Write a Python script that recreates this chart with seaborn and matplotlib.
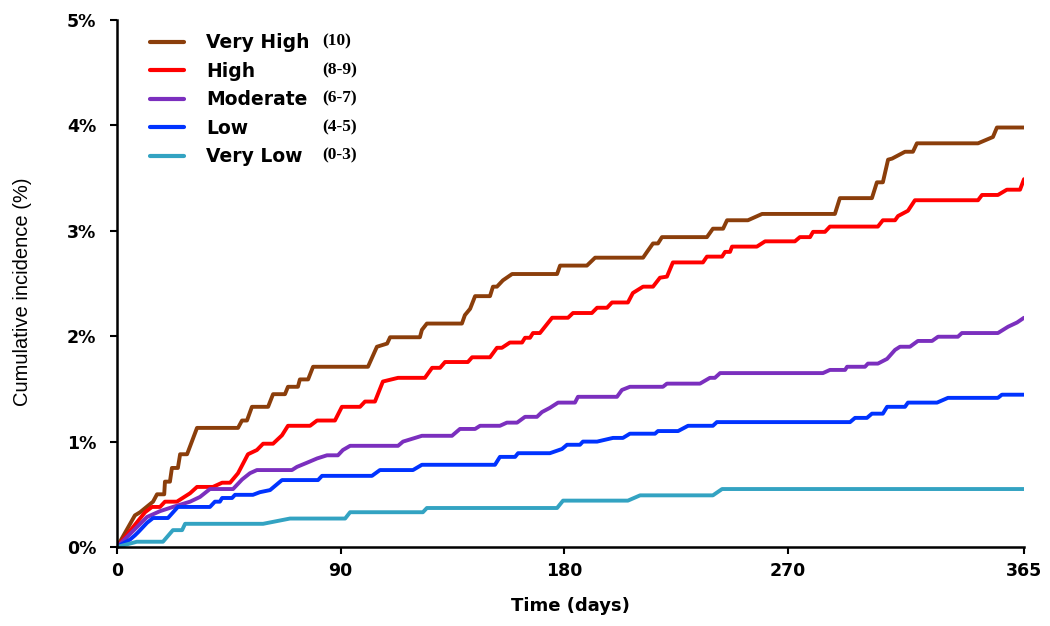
import pandas as pd
import matplotlib.pyplot as plt
import seaborn as sns

# cumulative incidence curves, (day, percent)
very_high = [
    (0, 0), (7.2, 0.30), (9.3, 0.33), (14.5, 0.43), (16.1, 0.50), (19.0, 0.50),
    (19.3, 0.62), (21.3, 0.62), (22.1, 0.75), (24.5, 0.75), (25.4, 0.88),
    (28.2, 0.88), (32.2, 1.13), (48.7, 1.13), (50.3, 1.20), (52.3, 1.20),
    (54.3, 1.33), (60.8, 1.33), (62.8, 1.45), (67.6, 1.45), (68.8, 1.52),
    (72.8, 1.52), (73.6, 1.59), (76.9, 1.59), (78.9, 1.71), (101.0, 1.71),
    (104.6, 1.90), (108.7, 1.93), (109.9, 1.99), (121.9, 1.99), (122.7, 2.06),
    (124.7, 2.12), (138.8, 2.12), (140.0, 2.20), (142.1, 2.26), (144.1, 2.38),
    (150.1, 2.38), (151.3, 2.47), (152.9, 2.47), (155.3, 2.53), (159.0, 2.59),
    (177.1, 2.59), (178.3, 2.67), (189.1, 2.67), (192.4, 2.745), (211.7, 2.745),
    (213.3, 2.80), (215.7, 2.88), (217.7, 2.88), (219.3, 2.94), (237.4, 2.94),
    (239.8, 3.02), (243.9, 3.02), (245.5, 3.10), (253.9, 3.10), (259.6, 3.16),
    (288.9, 3.16), (290.9, 3.31), (303.8, 3.31), (305.8, 3.46), (308.2, 3.46),
    (310.3, 3.675), (311.9, 3.685), (317.1, 3.75), (320.3, 3.75), (321.9, 3.83),
    (346.5, 3.83), (352.5, 3.89), (354.1, 3.98), (365, 3.98),
]
high = [
    (0, 0), (11.3, 0.33), (14.1, 0.38), (17.3, 0.38), (19.3, 0.43), (24.1, 0.43),
    (29.4, 0.51), (32.2, 0.57), (38.6, 0.57), (42.3, 0.61), (45.5, 0.61),
    (48.7, 0.70), (52.7, 0.88), (56.3, 0.92), (58.8, 0.98), (62.8, 0.98),
    (66.4, 1.06), (68.8, 1.15), (77.7, 1.15), (80.5, 1.20), (87.7, 1.20),
    (90.5, 1.33), (97.8, 1.33), (99.8, 1.38), (103.8, 1.38), (107.0, 1.57),
    (113.1, 1.605), (123.9, 1.605), (126.8, 1.70), (130.0, 1.70), (132.0, 1.755),
    (141.2, 1.755), (142.9, 1.80), (150.1, 1.80), (152.9, 1.89), (154.9, 1.89),
    (158.1, 1.94), (163.0, 1.94), (164.2, 1.985), (166.2, 1.985), (167.4, 2.03),
    (170.2, 2.03), (175.1, 2.175), (181.5, 2.175), (183.5, 2.22), (191.1, 2.22),
    (193.2, 2.27), (197.2, 2.27), (199.2, 2.32), (205.6, 2.32), (207.6, 2.41),
    (211.7, 2.47), (215.7, 2.47), (218.5, 2.555), (221.3, 2.565), (223.7, 2.70),
    (235.8, 2.70), (237.4, 2.755), (243.5, 2.755), (244.7, 2.80), (246.7, 2.80),
    (247.5, 2.85), (257.5, 2.85), (260.8, 2.90), (272.8, 2.90), (274.8, 2.94),
    (278.9, 2.94), (280.1, 2.99), (284.9, 2.99), (286.9, 3.04), (306.2, 3.04),
    (308.2, 3.10), (313.1, 3.10), (314.3, 3.14), (318.3, 3.19), (321.1, 3.29),
    (346.5, 3.29), (348.1, 3.34), (354.5, 3.34), (358.1, 3.39), (363.4, 3.39),
    (365, 3.49),
]
moderate = [
    (0, 0), (12.1, 0.285), (17.3, 0.34), (22.5, 0.38), (29.4, 0.43), (33.4, 0.475),
    (37.4, 0.55), (46.7, 0.55), (50.3, 0.64), (53.5, 0.70), (56.3, 0.73),
    (70.4, 0.73), (72.4, 0.76), (76.5, 0.80), (80.5, 0.84), (84.5, 0.87),
    (88.9, 0.87), (90.9, 0.92), (93.8, 0.96), (113.1, 0.96), (115.1, 1.00),
    (122.7, 1.055), (134.8, 1.055), (138.0, 1.12), (144.1, 1.12), (146.1, 1.15),
    (154.1, 1.15), (156.9, 1.18), (161.0, 1.18), (164.2, 1.235), (169.0, 1.235),
    (171.0, 1.28), (174.2, 1.32), (177.5, 1.37), (184.3, 1.37), (185.5, 1.425),
    (201.2, 1.425), (203.2, 1.49), (206.4, 1.52), (219.7, 1.52), (221.3, 1.55),
    (234.6, 1.55), (238.6, 1.605), (240.6, 1.605), (242.7, 1.65), (284.1, 1.65),
    (286.9, 1.68), (293.0, 1.68), (293.8, 1.71), (301.0, 1.71), (302.2, 1.74),
    (306.2, 1.74), (309.9, 1.785), (313.1, 1.87), (315.1, 1.90), (319.1, 1.90),
    (322.3, 1.955), (328.0, 1.955), (330.4, 1.995), (338.4, 1.995), (340.0, 2.03),
    (354.5, 2.03), (358.6, 2.09), (362.2, 2.13), (365, 2.175),
]
low = [
    (0, 0), (5.2, 0.07), (7.2, 0.11), (8.5, 0.14), (12.1, 0.23), (14.5, 0.275),
    (20.5, 0.275), (24.5, 0.38), (37.4, 0.38), (39.4, 0.43), (41.4, 0.43),
    (42.3, 0.465), (46.3, 0.465), (47.5, 0.495), (54.7, 0.495), (57.5, 0.52),
    (61.6, 0.54), (66.4, 0.635), (80.9, 0.635), (82.5, 0.675), (102.6, 0.675),
    (105.8, 0.73), (119.1, 0.73), (122.7, 0.78), (152.1, 0.78), (154.1, 0.855),
    (160.2, 0.855), (161.4, 0.89), (174.2, 0.89), (179.1, 0.93), (181.1, 0.97),
    (186.3, 0.97), (187.5, 1.00), (193.2, 1.00), (199.6, 1.035), (203.6, 1.035),
    (206.4, 1.075), (216.5, 1.075), (217.7, 1.10), (225.8, 1.10), (229.8, 1.15),
    (239.8, 1.15), (241.4, 1.185), (295.0, 1.185), (297.0, 1.225), (301.8, 1.225),
    (303.8, 1.265), (308.2, 1.265), (309.9, 1.33), (317.1, 1.33), (318.3, 1.37),
    (330.0, 1.37), (334.4, 1.415), (354.5, 1.415), (356.1, 1.445), (365, 1.445),
]
very_low = [
    (0, 0), (8.0, 0.05), (18.5, 0.05), (22.5, 0.16), (26.2, 0.16), (27.4, 0.22),
    (58.8, 0.22), (69.6, 0.27), (91.8, 0.27), (93.8, 0.33), (123.1, 0.33),
    (124.7, 0.37), (177.1, 0.37), (179.5, 0.44), (205.6, 0.44), (210.5, 0.49),
    (239.8, 0.49), (243.5, 0.55), (365, 0.55),
]

groups = ["Very High", "High", "Moderate", "Low", "Very Low"]
score_ranges = ["(10)", "(8-9)", "(6-7)", "(4-5)", "(0-3)"]
colors = ["#8B3E0B", "#FF0000", "#7B2FBE", "#0033FF", "#33A3C2"]
curves = [very_high, high, moderate, low, very_low]
x_ticks = [0, 90, 180, 270, 365]
y_ticks = [0, 1, 2, 3, 4, 5]

rows = []
for name, pts in zip(groups, curves):
    for d, p in pts:
        rows.append({"group": name, "day": d, "pct": p})
df = pd.DataFrame(rows)

sns.set_style("white")
plt.rcParams["font.family"] = ["DejaVu Sans"]
plt.rcParams["text.color"] = "black"
plt.rcParams["axes.labelcolor"] = "black"
plt.rcParams["xtick.color"] = "black"
plt.rcParams["ytick.color"] = "black"

fig = plt.figure(figsize=(10.5, 6.26), dpi=100)
ax = fig.add_axes([117 / 1050, 79 / 626, 907 / 1050, 527 / 626])

sns.lineplot(
    data=df, x="day", y="pct", hue="group", hue_order=groups,
    palette=dict(zip(groups, colors)), estimator=None, linewidth=2.8, ax=ax,
)

ax.set_xlim(0, 365)
ax.set_ylim(0, 5)
ax.set_xticks(x_ticks)
ax.set_yticks(y_ticks)
ax.set_yticklabels([f"{i}%" for i in y_ticks])
for lab in ax.get_xticklabels() + ax.get_yticklabels():
    lab.set_fontweight("bold")
    lab.set_fontsize(12.5)
ax.tick_params(axis="both", bottom=True, left=True, direction="out",
               length=5, width=1.5, color="black", labelcolor="black")
ax.tick_params(axis="y", pad=10)
ax.tick_params(axis="x", pad=6)
for side in ["top", "right"]:
    ax.spines[side].set_visible(False)
for side in ["left", "bottom"]:
    ax.spines[side].set_color("black")
    ax.spines[side].set_linewidth(1.8)

ax.set_xlabel("Time (days)", fontsize=13, fontweight="bold", labelpad=12,
              color="black")
ax.set_ylabel("Cumulative incidence (%)", family="Liberation Sans",
              fontsize=14.5, color="black")
ax.yaxis.set_label_coords(-0.094, 0.484)

leg = ax.legend(
    loc="upper left", bbox_to_anchor=(0.0364, 0.975), frameon=False,
    borderpad=0, borderaxespad=0, handlelength=1.8, handletextpad=1.2,
    labelspacing=0.51, prop={"weight": "bold", "size": 13.5},
)
for line in leg.get_lines():
    line.set_linewidth(3)
for txt in leg.get_texts():
    txt.set_color("black")

fig.canvas.draw()
renderer = fig.canvas.get_renderer()
inv = fig.transFigure.inverted()
for txt, rng in zip(leg.get_texts(), score_ranges):
    bb = txt.get_window_extent(renderer)
    y = inv.transform((0, (bb.y0 + bb.y1) / 2))[1]
    fig.text(322 / 1050, y + 0.002, rng, family="Liberation Serif",
             fontweight="bold", fontsize=12.5, va="center", ha="left",
             color="black")

plt.savefig("out.png", dpi=100)
plt.close()
